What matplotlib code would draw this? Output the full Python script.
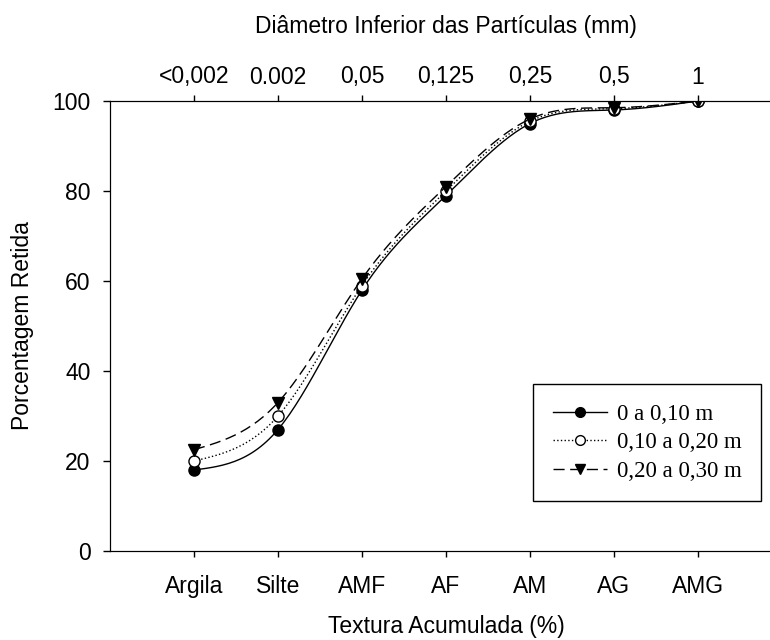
import matplotlib.pyplot as plt
import numpy as np
from matplotlib.lines import Line2D

# Data
classes = ['Argila', 'Silte', 'AMF', 'AF', 'AM', 'AG', 'AMG']
diametros = ['<0,002', '0.002', '0,05', '0,125', '0,25', '0,5', '1']
camada_0_10 = [18, 27, 58, 79, 95, 98, 100]
camada_10_20 = [20, 30, 59, 80, 95.5, 98.3, 100]
camada_20_30 = [22.5, 33, 60.5, 81, 96, 98.5, 100]


def smooth(x, y, n=30):
    # natural cubic spline through the points, for drawing the curve only
    x = np.asarray(x, float)
    y = np.asarray(y, float)
    m = len(x)
    h = np.diff(x)
    A = np.zeros((m, m))
    b = np.zeros(m)
    A[0, 0] = A[-1, -1] = 1
    for i in range(1, m - 1):
        A[i, i - 1] = h[i - 1]
        A[i, i] = 2 * (h[i - 1] + h[i])
        A[i, i + 1] = h[i]
        b[i] = 6 * ((y[i + 1] - y[i]) / h[i] - (y[i] - y[i - 1]) / h[i - 1])
    M = np.linalg.solve(A, b)
    xs, ys = [], []
    for i in range(m - 1):
        t = np.linspace(x[i], x[i + 1], n)
        a = (x[i + 1] - t) / h[i]
        c = (t - x[i]) / h[i]
        s = (a * y[i] + c * y[i + 1]
             + ((a ** 3 - a) * M[i] + (c ** 3 - c) * M[i + 1]) * h[i] ** 2 / 6)
        xs.extend(t)
        ys.extend(s)
    return np.array(xs), np.array(ys)


plt.rcParams['font.family'] = ['Liberation Sans', 'DejaVu Sans']
fs = 16.5

fig = plt.figure(figsize=(7.7, 6.4), dpi=100)
# axes run slightly past the right edge of the picture, as in the original
ax = fig.add_axes([110 / 770, 89 / 640, 672 / 770, 450 / 640])

x = np.arange(len(classes))
series = [
    (camada_0_10, '-', dict(marker='o', mfc='black', mec='black'), '0 a 0,10 m'),
    (camada_10_20, ':', dict(marker='o', mfc='white', mec='black'), '0,10 a 0,20 m'),
    (camada_20_30, (0, (8, 4)), dict(marker='v', mfc='black', mec='black'), '0,20 a 0,30 m'),
]
handles = []
for vals, ls, mk, label in series:
    sx, sy = smooth(x, vals)
    ax.plot(sx, sy, color='black', linestyle=ls, linewidth=1)
    ax.plot(x, vals, linestyle='none', markersize=8, **mk)
    handles.append(Line2D([], [], color='black', linestyle=ls, linewidth=1,
                          markersize=7, label=label, **mk))

ax.set_xlim(-1, 7)
ax.set_ylim(0, 100)
ax.set_xticks(x)
ax.set_xticklabels(classes)
ax.set_yticks(range(0, 101, 20))
ax.tick_params(axis='x', labelsize=fs, direction='out', length=4, width=1, pad=13)
ax.tick_params(axis='y', labelsize=fs, direction='out', length=5, width=1, pad=9)
ax.spines['right'].set_visible(False)
ax.set_xlabel('Textura Acumulada (%)', fontsize=fs)
ax.xaxis.set_label_coords(0.5, -0.142)
ax.set_ylabel('Porcentagem Retida', fontsize=fs)
ax.yaxis.set_label_coords(-0.113, 0.5)

top = ax.twiny()
top.set_xlim(ax.get_xlim())
top.set_xticks(x)
top.set_xticklabels(diametros)
top.tick_params(axis='x', labelsize=fs, direction='out', length=4, width=1, pad=5)
top.spines['right'].set_visible(False)
top.set_xlabel('Diâmetro Inferior das Partículas (mm)', fontsize=fs)
top.xaxis.set_label_coords(0.5, 1.15)

leg = ax.legend(handles=handles, loc='upper left', bbox_to_anchor=(0.63, 0.371),
                borderaxespad=0, prop={'family': 'Liberation Serif', 'size': fs},
                frameon=True, fancybox=False, edgecolor='black', framealpha=1,
                handlelength=2.35, handletextpad=0.45, borderpad=0.85,
                labelspacing=0.33)
leg.get_frame().set_linewidth(1)

fig.savefig('out.png', dpi=100)
